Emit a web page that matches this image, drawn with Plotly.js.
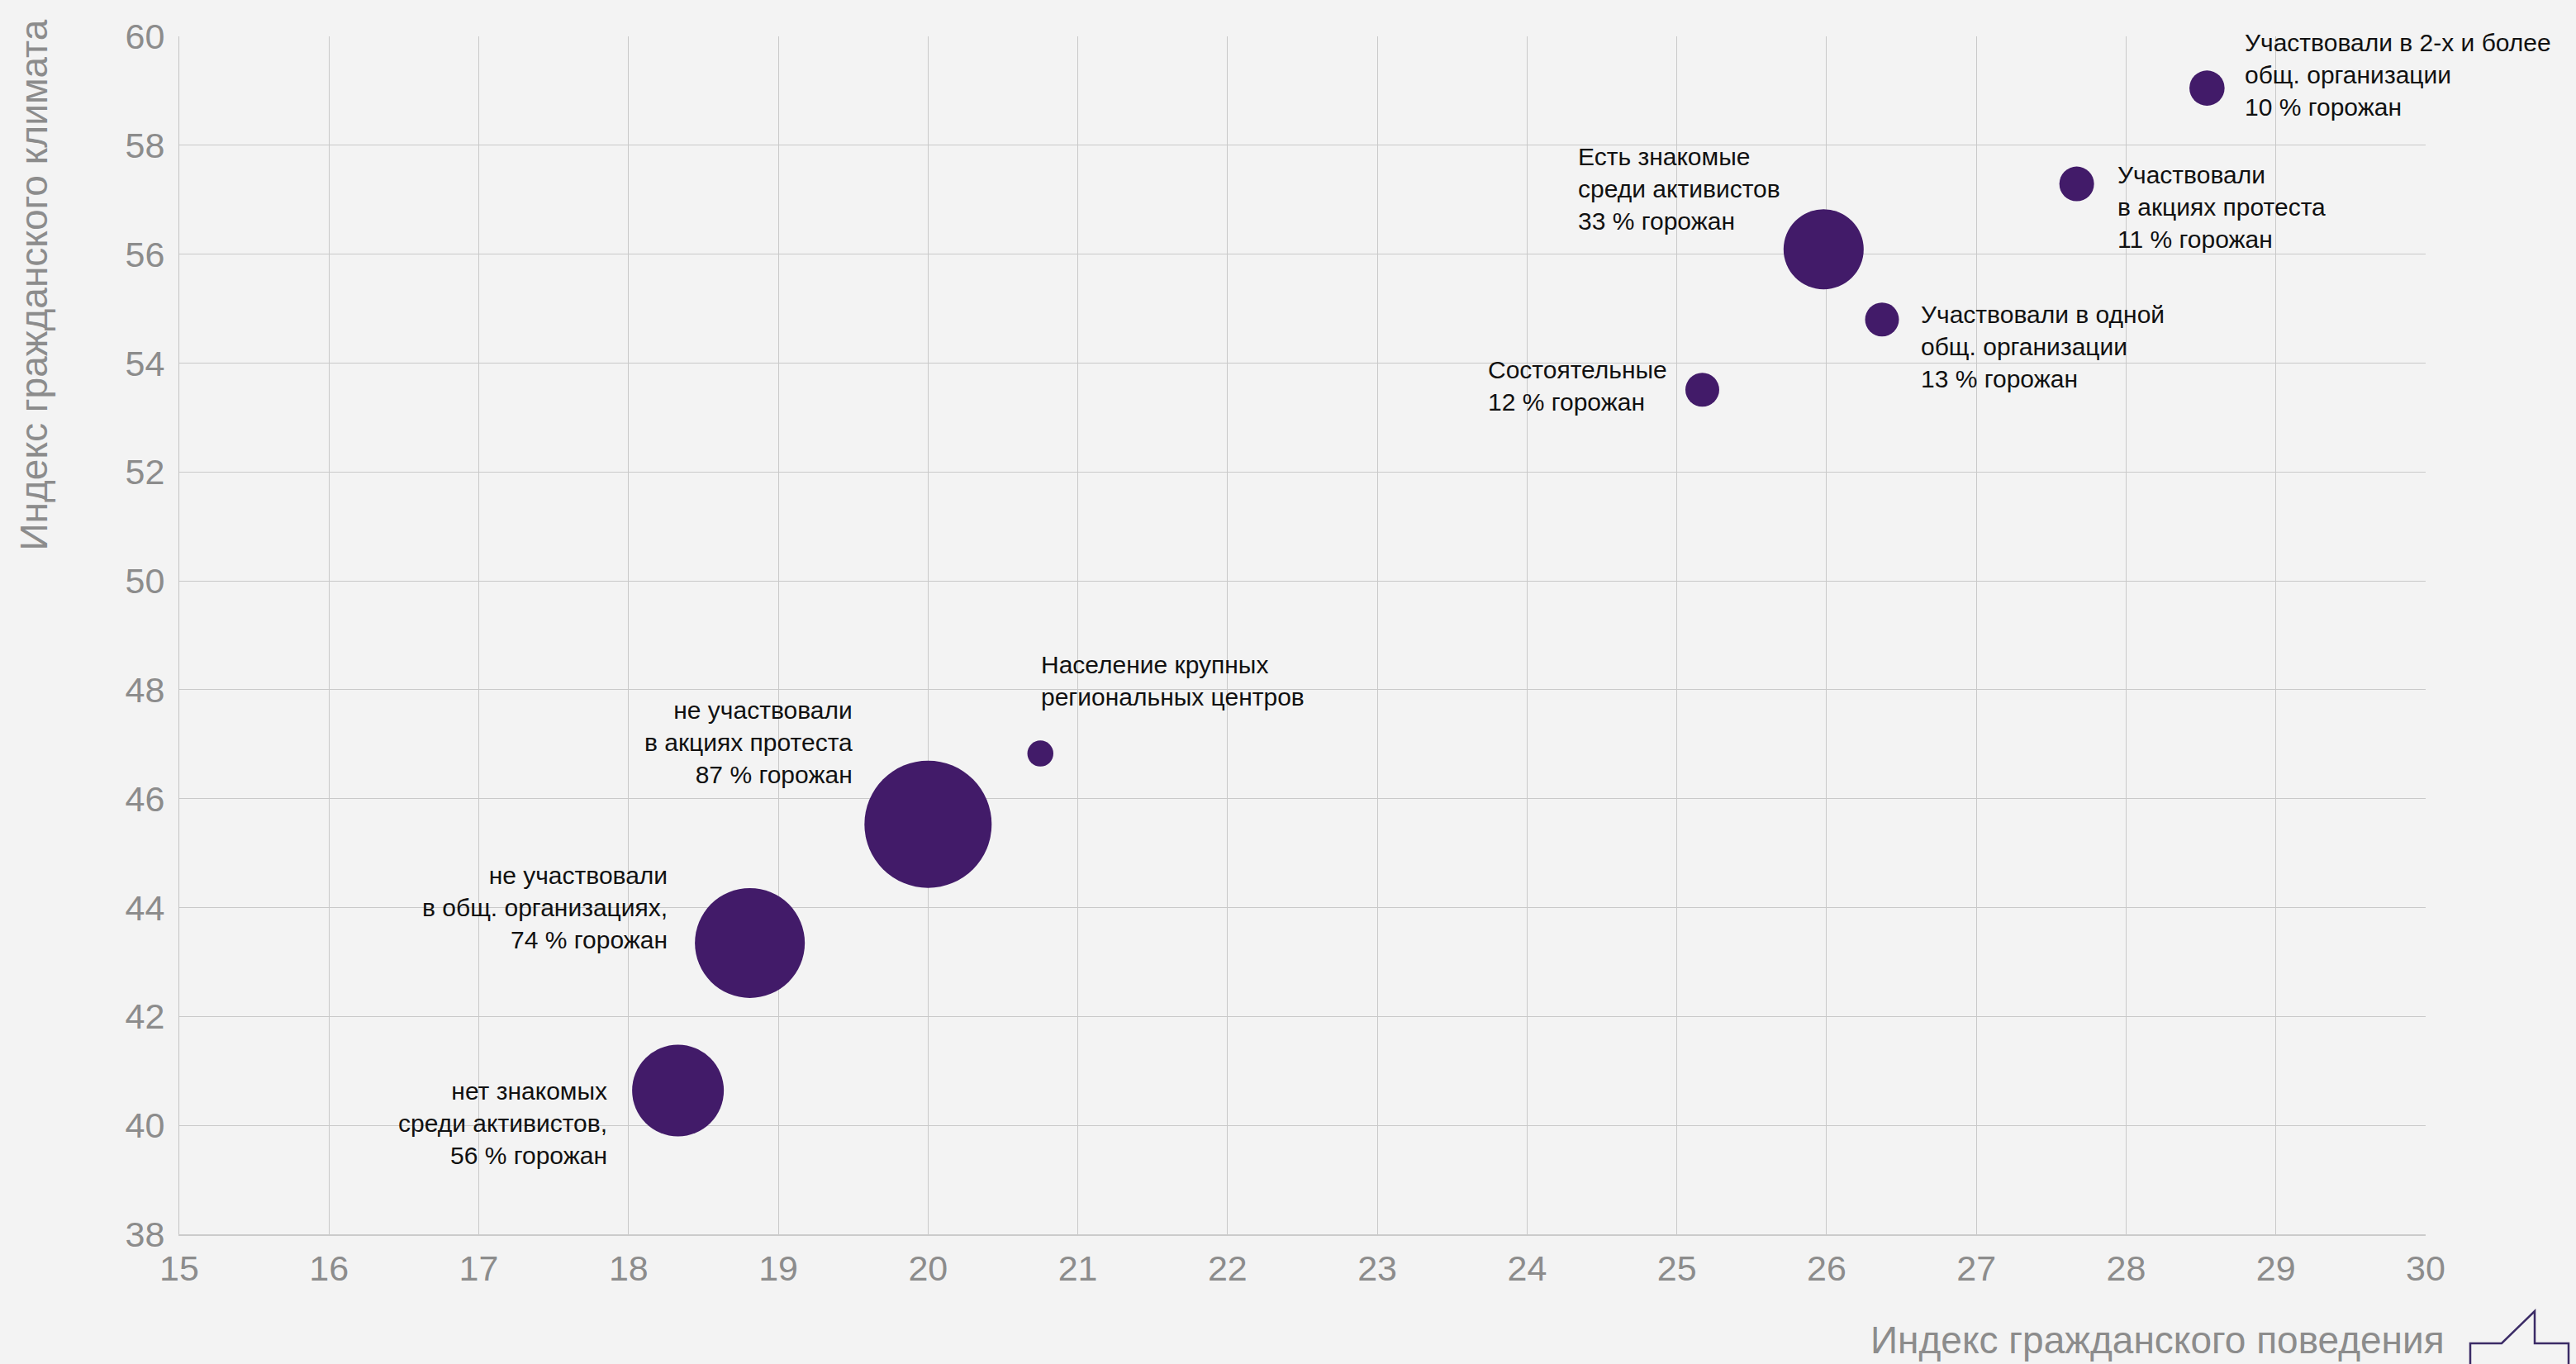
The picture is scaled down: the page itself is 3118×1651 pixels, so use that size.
<!DOCTYPE html>
<html>
<head>
<meta charset="utf-8">
<script src="https://cdn.plot.ly/plotly-3.0.1.min.js"></script>
<style>
  html, body { margin: 0; padding: 0; background: #f3f3f3; }
  #chart { width: 3118px; height: 1651px; }
</style>
</head>
<body>
<div id="chart"></div>
<script>
// ---- data ----
const groupLabels = [
  'Участвовали в 2-х и более<br>общ. организации<br>10 % горожан',
  'Участвовали<br>в акциях протеста<br>11 % горожан',
  'Есть знакомые<br>среди активистов<br>33 % горожан',
  'Участвовали в одной<br>общ. организации<br>13 % горожан',
  'Состоятельные<br>12 % горожан',
  'Население крупных<br>региональных центров',
  'не участвовали<br>в акциях протеста<br>87 % горожан',
  'не участвовали<br>в общ. организациях,<br>74 % горожан',
  'нет знакомых<br>среди активистов,<br>56 % горожан'
];
const civicBehavior = [28.54, 27.67, 25.98, 26.37, 25.17, 20.75, 20.00, 18.81, 18.33];
const civicClimate  = [59.05, 57.29, 56.09, 54.80, 53.51, 46.83, 45.53, 43.35, 40.64];
const bubbleWeight  = [42.6, 42, 97, 41, 41, 31.5, 154, 133, 111];

const xTitle = 'Индекс гражданского поведения';
const yTitle = 'Индекс гражданского климата';

// label placement (style only: side and offset relative to the bubble)
const labelStyle = [
  {xanchor: 'left',  align: 'left',  dx: 44,  dy: 16},
  {xanchor: 'left',  align: 'left',  dx: 47,  dy: -28},
  {xanchor: 'right', align: 'left',  dx: -50, dy: 73},
  {xanchor: 'left',  align: 'left',  dx: 45,  dy: -33},
  {xanchor: 'right', align: 'left',  dx: -40, dy: 5},
  {xanchor: 'left',  align: 'left',  dx: -1,  dy: 88},
  {xanchor: 'right', align: 'right', dx: -89, dy: 99},
  {xanchor: 'right', align: 'right', dx: -98, dy: 43},
  {xanchor: 'right', align: 'right', dx: -84, dy: -39}
];

const gray = '#8c8c8c';
const purple = '#421b69';
const labelFont = {family: 'Liberation Sans, Arial, sans-serif', size: 30, color: '#111111'};
const tickFont = {family: 'Liberation Sans, Arial, sans-serif', size: 43, color: gray};

const trace = {
  type: 'scatter',
  mode: 'markers',
  x: civicBehavior,
  y: civicClimate,
  text: groupLabels,
  hoverinfo: 'text',
  marker: {
    size: bubbleWeight,
    sizemode: 'diameter',
    sizeref: 1,
    color: purple,
    opacity: 1,
    line: {width: 0}
  },
  showlegend: false
};

const annotations = civicBehavior.map((xv, i) => ({
  x: xv, y: civicClimate[i], xref: 'x', yref: 'y',
  text: groupLabels[i],
  showarrow: false,
  xanchor: labelStyle[i].xanchor,
  yanchor: 'middle',
  align: labelStyle[i].align,
  xshift: labelStyle[i].dx,
  yshift: labelStyle[i].dy,
  font: labelFont
}));

annotations.push({
  xref: 'paper', yref: 'paper', x: 1, y: 0,
  xanchor: 'right', yanchor: 'middle',
  xshift: 25, yshift: -128,
  text: xTitle, showarrow: false,
  font: {family: 'Liberation Sans, Arial, sans-serif', size: 46, color: gray}
});
annotations.push({
  xref: 'paper', yref: 'paper', x: 0, y: 1,
  xanchor: 'center', yanchor: 'top',
  xshift: -177, yshift: 22,
  textangle: -90,
  text: yTitle, showarrow: false,
  font: {family: 'Liberation Sans, Arial, sans-serif', size: 46, color: gray}
});

const layout = {
  width: 3118,
  height: 1651,
  paper_bgcolor: '#f3f3f3',
  plot_bgcolor: 'rgba(0,0,0,0)',
  margin: {l: 217, r: 182, t: 44, b: 157, pad: 0},
  xaxis: {
    range: [15, 30],
    dtick: 1,
    tick0: 15,
    showgrid: true,
    gridcolor: '#c9c9c9',
    gridwidth: 1,
    zeroline: false,
    showline: true,
    linecolor: '#cbcbcb',
    linewidth: 2,
    ticks: '',
    tickfont: tickFont,
    ticklabelstandoff: 2,
    fixedrange: true
  },
  yaxis: {
    range: [38, 60],
    dtick: 2,
    tick0: 38,
    showgrid: true,
    gridcolor: '#c9c9c9',
    gridwidth: 1,
    zeroline: false,
    showline: true,
    linecolor: '#c4c4c4',
    linewidth: 1,
    ticks: '',
    tickfont: tickFont,
    ticklabelstandoff: 8,
    fixedrange: true
  },
  annotations: annotations,
  shapes: [{
    type: 'path',
    xref: 'paper', yref: 'paper',
    path: 'M 1.01986,-0.1145 L 1.01986,-0.09103 L 1.03384,-0.09103 L 1.04855,-0.06414 L 1.04855,-0.09103 L 1.06363,-0.09103 L 1.06363,-0.1145',
    line: {color: '#3b2b66', width: 2.5},
    layer: 'above'
  }]
};

Plotly.newPlot('chart', [trace], layout, {displayModeBar: false, staticPlot: true});
</script>
</body>
</html>
